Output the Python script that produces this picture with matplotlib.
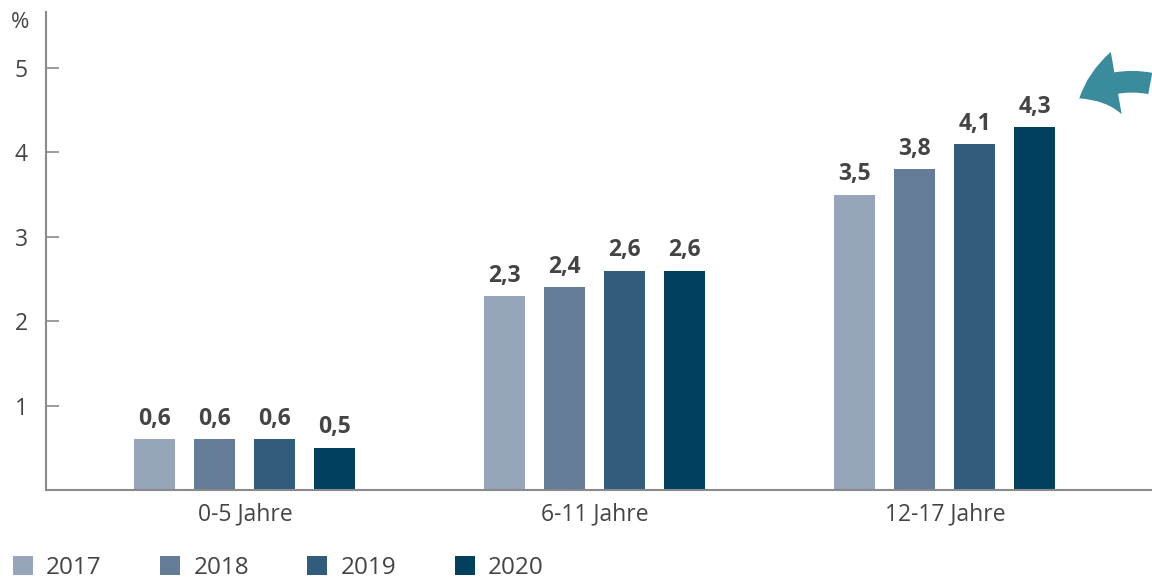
import matplotlib
matplotlib.use("Agg")
import matplotlib.pyplot as plt
from matplotlib.patches import FancyArrowPatch, Patch
import numpy as np

plt.rcParams['font.family'] = ['Open Sans', 'DejaVu Sans']

categories = ["0-5 Jahre", "6-11 Jahre", "12-17 Jahre"]
years = ["2017", "2018", "2019", "2020"]
values = {
    "2017": [0.6, 2.3, 3.5],
    "2018": [0.6, 2.4, 3.8],
    "2019": [0.6, 2.6, 4.1],
    "2020": [0.5, 2.6, 4.3],
}
colors = ["#97A5BA", "#647C98", "#325C7C", "#01405F"]
yticks = [1, 2, 3, 4, 5]

W, H = 1152, 582
fig = plt.figure(figsize=(W / 100, H / 100), dpi=100)
ax = fig.add_axes([46 / W, 1 - 490 / H, (1151 - 46) / W, (490 - 12) / H])

x = np.arange(len(categories))
step = 60 / 350
width = 41 / 350
text_col = "#444444"
axis_col = "#8a8a8a"

for i, (yr, col) in enumerate(zip(years, colors)):
    pos = x + (i - 1.5) * step
    bars = ax.bar(pos, values[yr], width=width, color=col, label=yr)
    for b, v in zip(bars, values[yr]):
        ax.annotate(f"{v:.1f}".replace(".", ","), (b.get_x() + b.get_width() / 2, v),
                    xytext=(0, 6), textcoords="offset points", ha="center", va="bottom",
                    fontsize=16.5, fontweight="bold", color=text_col)

ax.set_xlim(-0.5686, 2.589)
ax.set_ylim(0, (490 - 12) / 84.4)
ax.set_yticks(yticks)
ax.set_yticklabels([str(t) for t in yticks])
ax.set_xticks(x)
ax.set_xticklabels(categories)
ax.tick_params(axis="y", direction="in", length=9, width=1.2, color=axis_col,
               labelsize=16.5, labelcolor=text_col, pad=13)
ax.tick_params(axis="x", length=0, labelsize=16.5, labelcolor=text_col, pad=9)
for s in ["top", "right"]:
    ax.spines[s].set_visible(False)
for s in ["left", "bottom"]:
    ax.spines[s].set_color(axis_col)
    ax.spines[s].set_linewidth(1.5)

fig.text(11 / W, 1 - 22 / H, "%", fontsize=16, color=text_col, va="center", ha="left")

handles = [Patch(facecolor=c, edgecolor="none") for c in colors]
fig.legend(handles, years, loc="lower left", bbox_to_anchor=(-9 / W, -20 / H), ncol=4,
           frameon=False, fontsize=17.5, handlelength=0.82, handleheight=0.82,
           handletextpad=0.55, columnspacing=2.4, labelcolor=text_col)

arrow = FancyArrowPatch((1153 / W, 1 - 84 / H), (1077 / W, 1 - 100 / H),
                        transform=fig.transFigure, connectionstyle="arc3,rad=0.22",
                        arrowstyle="simple,head_width=3.8,head_length=2.4,tail_width=1.3",
                        mutation_scale=12, color="#3A8C9C", lw=0)
fig.patches.append(arrow)

fig.savefig("out.png", dpi=100)
